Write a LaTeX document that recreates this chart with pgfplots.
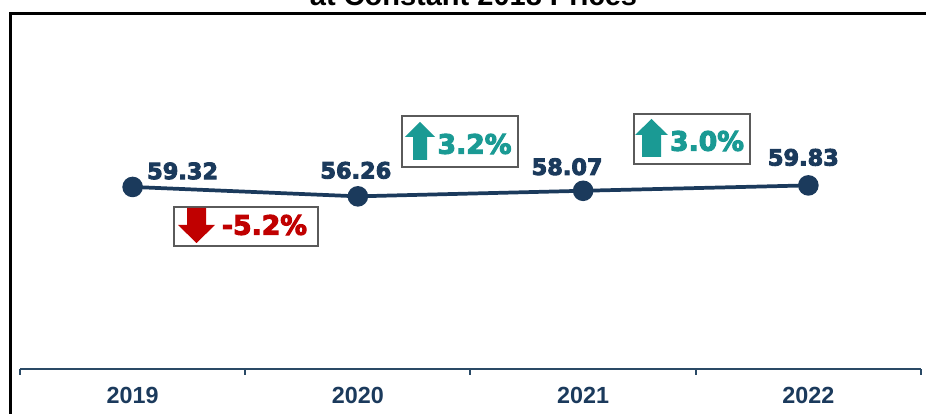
\documentclass[border=0pt]{standalone}
\usepackage{fontspec}
\setmainfont{Liberation Sans}
\newfontfamily\heavy{DejaVu Sans Bold}[FakeBold=4]
\usepackage{pgfplots}
\pgfplotsset{compat=1.18}
\definecolor{navy}{RGB}{27,58,92}
\definecolor{axisnavy}{RGB}{42,74,102}
\definecolor{redc}{RGB}{192,0,0}
\definecolor{tealc}{RGB}{26,154,148}
\definecolor{boxgray}{RGB}{90,90,90}

\begin{document}
\begin{tikzpicture}
  \useasboundingbox (0,0) rectangle (694.5pt,310.5pt);
  \clip (0,0) rectangle (694.5pt,310.5pt);
  \begin{axis}[
    at={(15pt,33.75pt)}, anchor=south west,
    scale only axis,
    width=675.75pt, height=267pt,
    xmin=-0.5, xmax=3.5, ymin=0, ymax=116,
    axis x line=bottom, axis y line=none,
    x axis line style={-, color=axisnavy, line width=1.5pt},
    xtick={0,1,2,3},
    xticklabels={2019,2020,2021,2022},
    minor xtick={-0.5,0.5,1.5,2.5,3.5},
    major tick length=0pt,
    minor tick length=4.5pt,
    xtick align=outside,
    minor x tick style={color=axisnavy, line width=1.5pt},
    ytick=\empty,
    xticklabel style={font=\bfseries\fontsize{17.5}{20}\selectfont, text=navy, yshift=-10pt},
    clip=false,
  ]
    \addplot[color=navy, line width=2.8pt, mark=*, mark size=6.3pt] coordinates {
      (0,59.32) (1,56.26) (2,58.07) (3,59.83)
    };
    \node[font=\heavy\fontsize{16.8}{20}\selectfont, text=navy, xshift=37.5pt, yshift=12pt] at (axis cs:0,59.32) {59.32};
    \node[font=\heavy\fontsize{16.8}{20}\selectfont, text=navy, xshift=-1.5pt, yshift=19.5pt] at (axis cs:1,56.26) {56.26};
    \node[font=\heavy\fontsize{16.8}{20}\selectfont, text=navy, xshift=-12pt, yshift=18pt] at (axis cs:2,58.07) {58.07};
    \node[font=\heavy\fontsize{16.8}{20}\selectfont, text=navy, xshift=-3.75pt, yshift=21pt] at (axis cs:3,59.83) {59.83};
  \end{axis}
  \begin{scope}[x=0.75pt, y=-0.75pt, yshift=310.5pt]
    % title, cut at the top as in the reference
    \node[anchor=base, font=\bfseries\fontsize{21.75}{26}\selectfont] at (473.5,6) {at Constant 2018 Prices};
    % frame
    \draw[line width=2pt, black] (10.5,440) -- (10.5,13.5) -- (940,13.5);
    % change boxes
    \draw[boxgray, line width=0.8pt] (174,207) rectangle (318,246);
    \fill[redc] (187,208) -- (206,208) -- (206,225) -- (215,225) -- (196.5,243) -- (178,225) -- (187,225) -- cycle;
    \node[font=\heavy\fontsize{20}{24}\selectfont, text=redc] at (264.5,225) {-5.2\%};
    \draw[boxgray, line width=0.8pt] (402,116) rectangle (518,167);
    \fill[tealc] (413,160) -- (413,137) -- (405,137) -- (420,122) -- (435,137) -- (427,137) -- (427,160) -- cycle;
    \node[font=\heavy\fontsize{20}{24}\selectfont, text=tealc] at (474.5,144) {3.2\%};
    \draw[boxgray, line width=0.8pt] (634,114) rectangle (750,164);
    \fill[tealc] (642,157) -- (642,135) -- (635,135) -- (651.5,119) -- (668,135) -- (661,135) -- (661,157) -- cycle;
    \node[font=\heavy\fontsize{20}{24}\selectfont, text=tealc] at (707,141) {3.0\%};
  \end{scope}
\end{tikzpicture}
\end{document}
